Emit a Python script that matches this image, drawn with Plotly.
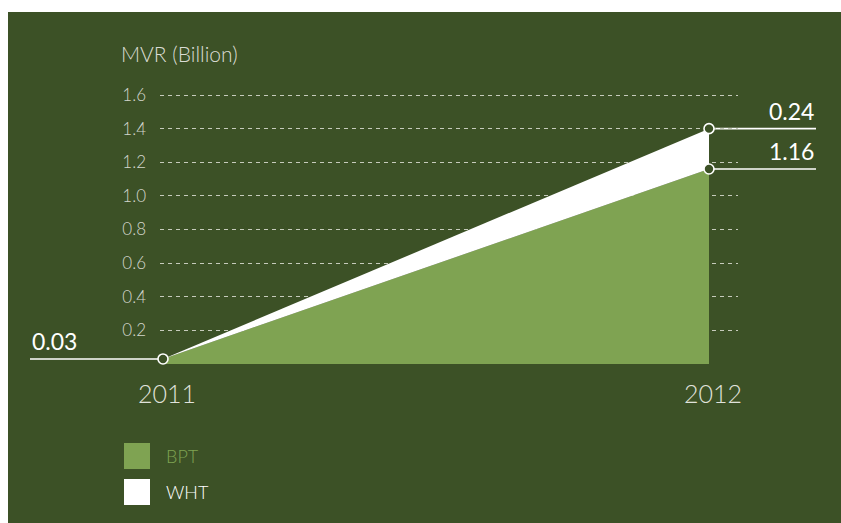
import plotly.graph_objects as go

# Market value (MVR billion) by year
years = [2011, 2012]
bpt = [0.03, 1.16]
wht = [0.00, 0.24]
year_labels = ["2011", "2012"]
y_ticks = [0.2, 0.4, 0.6, 0.8, 1.0, 1.2, 1.4, 1.6]
y_tick_text = ["0.2", "0.4", "0.6", "0.8", "1.0", "1.2", "1.4", "1.6"]

W, H = 841, 523
BG = "#3c5126"
GREEN = "#7fa352"
FONT = "Lato"

# plot area in pixels
L, R, T, B = 160, 103, 93, 159
PW, PH = W - L - R, H - T - B
x_range = [2011 - 3 / 546, 2012 + 29 / 546]
y_range = [0, 1.612]


def px_x(px):
    return (px - L) / PW


def px_y(py):
    return (H - B - py) / PH


def data_x(x):
    return (x - x_range[0]) / (x_range[1] - x_range[0])


totals = [b + w for b, w in zip(bpt, wht)]

fig = go.Figure()
fig.add_trace(go.Scatter(x=years, y=bpt, stackgroup="s", mode="none",
                         fillcolor=GREEN, name="BPT", hoverinfo="skip"))
fig.add_trace(go.Scatter(x=years, y=wht, stackgroup="s", mode="none",
                         fillcolor="white", name="WHT", hoverinfo="skip"))

# open circle markers at the reported points
pts_x = [years[0], years[1], years[1]]
pts_y = [totals[0], bpt[1], totals[1]]
fig.add_trace(go.Scatter(x=pts_x, y=pts_y, mode="markers",
                         marker=dict(size=10, color=BG, line=dict(color="white", width=1.6)),
                         hoverinfo="skip", cliponaxis=False))

shapes = []
annotations = []

# white frame strips along top and left edges
shapes.append(dict(type="rect", xref="paper", yref="paper", x0=px_x(-5), x1=px_x(W + 5),
                   y0=px_y(12), y1=px_y(-5), fillcolor="white", line_width=0, layer="below"))
shapes.append(dict(type="rect", xref="paper", yref="paper", x0=px_x(-5), x1=px_x(8),
                   y0=px_y(H + 5), y1=px_y(-5), fillcolor="white", line_width=0, layer="below"))

# leader lines and value labels
leaders = [
    (px_x(30), data_x(years[0]), totals[0], f"{totals[0]:.2f}", px_x(30), "left"),
    (data_x(years[1]), px_x(816), totals[1], f"{wht[1]:.2f}", px_x(816), "right"),
    (data_x(years[1]), px_x(816), bpt[1], f"{bpt[1]:.2f}", px_x(816), "right"),
]
for x0, x1, yv, txt, ax, anchor in leaders:
    shapes.append(dict(type="line", xref="paper", yref="y", x0=x0, x1=x1, y0=yv, y1=yv,
                       line=dict(color="white", width=1.6), layer="below"))
    annotations.append(dict(xref="paper", yref="y", x=ax, y=yv, text=txt, showarrow=False,
                            xanchor=anchor, yanchor="bottom", yshift=2,
                            font=dict(family=FONT, size=23, color="white", weight=400)))

# axis title
annotations.append(dict(xref="paper", yref="paper", x=px_x(119), y=px_y(53), text="MVR (Billion)",
                        showarrow=False, xanchor="left", yanchor="middle",
                        font=dict(family=FONT, size=21, color="#dadcd4", weight=300)))

# legend swatches
legend_items = [("BPT", GREEN, GREEN), ("WHT", "white", "white")]
for i, (name, fill, tcolor) in enumerate(legend_items):
    top = 443 + 36 * i
    shapes.append(dict(type="rect", xref="paper", yref="paper", x0=px_x(124), x1=px_x(150),
                       y0=px_y(top + 26), y1=px_y(top), fillcolor=fill, line_width=0))
    annotations.append(dict(xref="paper", yref="paper", x=px_x(164), y=px_y(top + 13), text=name,
                            showarrow=False, xanchor="left", yanchor="middle",
                            font=dict(family=FONT, size=18, color=tcolor, weight=300)))

fig.update_layout(
    width=W, height=H,
    margin=dict(l=L, r=R, t=T, b=B),
    paper_bgcolor=BG, plot_bgcolor=BG,
    showlegend=False,
    shapes=shapes, annotations=annotations,
    xaxis=dict(range=x_range, tickvals=years, ticktext=year_labels, showgrid=False,
               zeroline=False, showline=False, ticks="", ticklabelstandoff=13,
               ticklabelshift=4,
               tickfont=dict(family=FONT, size=25, color="#e0e2db", weight=300)),
    yaxis=dict(range=y_range, tickvals=y_ticks, ticktext=y_tick_text, showgrid=True,
               gridcolor="#c6cbbb", gridwidth=1, griddash="4px,4px", zeroline=False,
               showline=False, ticks="", ticklabelstandoff=13,
               tickfont=dict(family=FONT, size=17, color="#d3d6cc", weight=300)),
)

fig.write_html("out.html")
